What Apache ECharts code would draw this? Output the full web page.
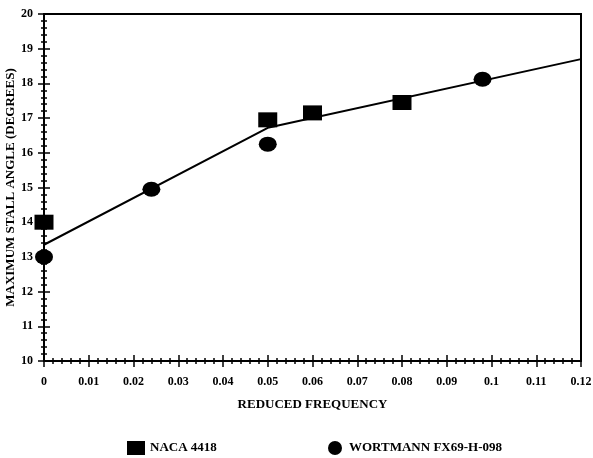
<!DOCTYPE html>
<html>
<head>
<meta charset="utf-8">
<script src="https://cdn.jsdelivr.net/npm/echarts@6/dist/echarts.min.js"></script>
<style>html,body{margin:0;padding:0;background:#fff;}#c{width:593px;height:458px;}</style>
</head>
<body>
<div id="c"></div>
<script>
// Data
const nacaX = [0, 0.05, 0.06, 0.08];
const nacaY = [14.0, 16.95, 17.15, 17.45];
const wortX = [0, 0.024, 0.05, 0.098];
const wortY = [13.0, 14.95, 16.25, 18.12];
const fitX = [0, 0.05, 0.12];
const fitY = [13.35, 16.72, 18.7];
const xTickLabels = ['0','0.01','0.02','0.03','0.04','0.05','0.06','0.07','0.08','0.09','0.1','0.11','0.12'];
const yTickLabels = ['10','11','12','13','14','15','16','17','18','19','20'];

const pair = (xs, ys) => xs.map((x, i) => [x, ys[i]]);
const font = 'Liberation Serif';
const chart = echarts.init(document.getElementById('c'));

const xBase = {type:'value', min:0, max:0.12, interval:0.01, gridIndex:0};
const yBase = {type:'value', min:10, max:20, interval:1, gridIndex:0};

chart.setOption({
  animation:false,
  backgroundColor:'#fff',
  grid:{left:44, right:12, top:14, bottom:97, show:true, borderColor:'#000', borderWidth:2,
    containLabel:false, outerBoundsMode:'none'},
  xAxis:[
    Object.assign({}, xBase, {
      position:'bottom',
      name:'REDUCED FREQUENCY', nameLocation:'middle', nameGap:37, nameMoveOverlap:false,
      nameTextStyle:{fontFamily:font, fontWeight:'bold', fontSize:13, color:'#000'},
      axisLine:{lineStyle:{color:'#000', width:2}},
      axisTick:{show:true, inside:false, length:6, lineStyle:{color:'#000', width:1.5}},
      minorTick:{show:true, splitNumber:5, length:3, lineStyle:{color:'#000', width:1.5}},
      splitLine:{show:false},
      axisLabel:{fontFamily:font, fontWeight:'bold', fontSize:12, color:'#000', margin:15,
        formatter:(v)=>xTickLabels[Math.round(v*100)]}
    }),
    Object.assign({}, xBase, {
      position:'bottom',
      axisLine:{show:false},
      axisTick:{show:true, inside:true, length:6, lineStyle:{color:'#000', width:1.5}},
      minorTick:{show:true, splitNumber:5, length:3, lineStyle:{color:'#000', width:1.5}},
      splitLine:{show:false}, axisLabel:{show:false}
    })
  ],
  yAxis:[
    Object.assign({}, yBase, {
      position:'left',
      name:'MAXIMUM STALL ANGLE (DEGREES)', nameLocation:'middle', nameGap:27, nameMoveOverlap:false,
      nameTextStyle:{fontFamily:font, fontWeight:'bold', fontSize:13, color:'#000'},
      axisLine:{lineStyle:{color:'#000', width:2}},
      axisTick:{show:true, inside:false, length:6, lineStyle:{color:'#000', width:1.5}},
      minorTick:{show:true, splitNumber:5, length:3, lineStyle:{color:'#000', width:1.5}},
      splitLine:{show:false},
      axisLabel:{fontFamily:font, fontWeight:'bold', fontSize:12, color:'#000', margin:11,
        formatter:(v)=>yTickLabels[Math.round(v-10)]}
    }),
    Object.assign({}, yBase, {
      position:'left',
      axisLine:{show:false},
      axisTick:{show:true, inside:true, length:6, lineStyle:{color:'#000', width:1.5}},
      minorTick:{show:true, splitNumber:5, length:3, lineStyle:{color:'#000', width:1.5}},
      splitLine:{show:false}, axisLabel:{show:false}
    })
  ],
  legend:[
    {data:['NACA 4418'], left:122, top:436, itemWidth:18, itemHeight:14, itemGap:10,
      textStyle:{fontFamily:font, fontWeight:'bold', fontSize:13, color:'#000'}},
    {data:['WORTMANN FX69-H-098'], left:323, top:436, itemWidth:18, itemHeight:14, itemGap:10,
      textStyle:{fontFamily:font, fontWeight:'bold', fontSize:13, color:'#000'}}
  ],
  series:[
    {name:'fit', type:'line', data:pair(fitX, fitY), showSymbol:false, symbol:'none',
      lineStyle:{color:'#000', width:2}, z:1, silent:true},
    {name:'NACA 4418', type:'scatter', data:pair(nacaX, nacaY), symbol:'rect', symbolSize:[19,15],
      itemStyle:{color:'#000', opacity:1}, z:3},
    {name:'WORTMANN FX69-H-098', type:'scatter', data:pair(wortX, wortY), symbol:'circle', symbolSize:[18,15],
      itemStyle:{color:'#000', opacity:1}, z:3}
  ]
});
</script>
</body>
</html>
